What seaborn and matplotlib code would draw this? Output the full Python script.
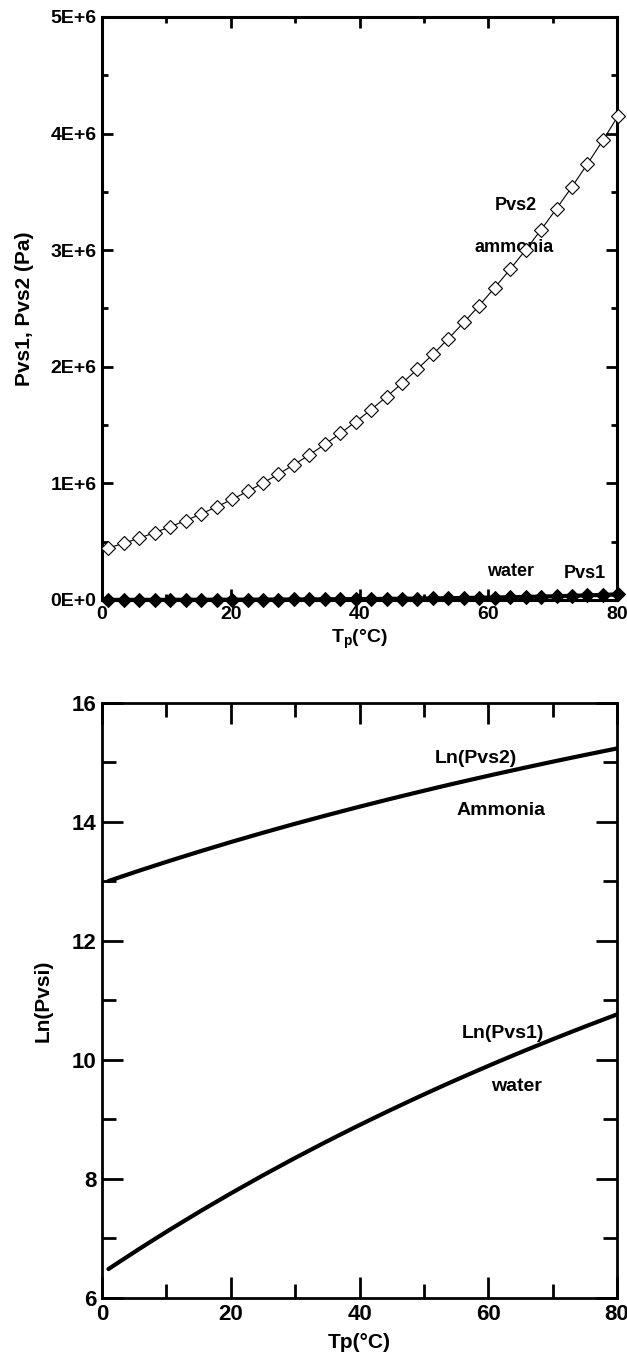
import numpy as np
import pandas as pd
import matplotlib
matplotlib.use("Agg")
import matplotlib.pyplot as plt
from matplotlib.ticker import MultipleLocator, FixedLocator, FixedFormatter
import seaborn as sns

# ---- data ----
temp_c = [1.0, 3.4, 5.8, 8.2, 10.6, 13.0, 15.4, 17.8, 20.2, 22.6, 25.0, 27.4,
          29.8, 32.2, 34.6, 37.0, 39.4, 41.8, 44.2, 46.6, 49.0, 51.4, 53.8,
          56.2, 58.6, 61.0, 63.4, 65.8, 68.2, 70.6, 73.0, 75.4, 77.8, 80.2]
pvs2_ammonia = [445400, 486500, 530700, 577400, 627600, 680700, 737900, 798000,
                862800, 930200, 1003000, 1079000, 1160000, 1244000, 1334000,
                1428000, 1528000, 1632000, 1743000, 1858000, 1980000, 2107000,
                2241000, 2380000, 2525000, 2678000, 2836000, 3002000, 3175000,
                3356000, 3543000, 3739000, 3941000, 4154000]
pvs1_water = [656, 778, 921, 1086, 1277, 1495, 1749, 2035, 2367, 2739, 3169,
              3647, 4197, 4806, 5503, 6274, 7148, 8114, 9199, 10400, 11743,
              13223, 14866, 16674, 18666, 20870, 23276, 25928, 28812, 31996,
              35438, 39219, 43288, 47770]

top_yticks = [0, 1e6, 2e6, 3e6, 4e6, 5e6]
top_ytick_labels = ["0E+0", "1E+6", "2E+6", "3E+6", "4E+6", "5E+6"]
xticks = [0, 20, 40, 60, 80]
bottom_yticks = [6, 8, 10, 12, 14, 16]

df = pd.DataFrame({"T": temp_c, "Pvs2": pvs2_ammonia, "Pvs1": pvs1_water})
df["LnPvs2"] = np.log(df["Pvs2"])
df["LnPvs1"] = np.log(df["Pvs1"])

# ---- style ----
sns.set_style("ticks")
FONT = ["Liberation Sans", "DejaVu Sans"]
plt.rcParams["font.family"] = FONT
plt.rcParams["font.weight"] = "bold"
for k in ["text.color", "axes.labelcolor", "xtick.color", "ytick.color", "axes.edgecolor"]:
    plt.rcParams[k] = "black"
plt.rcParams["mathtext.fontset"] = "custom"
plt.rcParams["mathtext.rm"] = "Liberation Sans:bold"
plt.rcParams["mathtext.it"] = "Liberation Sans:bold"
plt.rcParams["mathtext.bf"] = "Liberation Sans:bold"

fig = plt.figure(figsize=(6.27, 13.66), dpi=100)
ax1 = fig.add_axes([0.1627, 0.5608, 0.8214, 0.4268])
ax2 = fig.add_axes([0.1627, 0.0498, 0.8214, 0.4356])

# ---- top plot ----
sns.lineplot(data=df, x="T", y="Pvs2", ax=ax1, color="black", linewidth=0.8,
             marker="D", markersize=7, markerfacecolor="white",
             markeredgecolor="black", markeredgewidth=0.8, clip_on=False,
             zorder=5)
sns.lineplot(data=df, x="T", y="Pvs1", ax=ax1, color="black", linewidth=3,
             marker="D", markersize=7, markerfacecolor="black",
             markeredgecolor="black", clip_on=False, zorder=5)
ax1.set_xlim(0, 80)
ax1.set_ylim(0, 5e6)
ax1.xaxis.set_major_locator(FixedLocator(xticks))
ax1.xaxis.set_minor_locator(MultipleLocator(10))
ax1.yaxis.set_major_locator(FixedLocator(top_yticks))
ax1.yaxis.set_major_formatter(FixedFormatter(top_ytick_labels))
ax1.yaxis.set_minor_locator(MultipleLocator(5e5))
ax1.tick_params(which="both", direction="in", top=True, right=True,
                labelsize=14, width=2, color="black", pad=4)
ax1.tick_params(which="major", length=8)
ax1.tick_params(which="minor", length=4)
for lab in ax1.get_xticklabels() + ax1.get_yticklabels():
    lab.set_fontweight("bold")
for sp in ax1.spines.values():
    sp.set_linewidth(2.2)
    sp.set_color("black")
ax1.set_xlabel(r"$\mathrm{T_p(°C)}$", fontsize=14, labelpad=4)
ax1.set_ylabel("Pvs1, Pvs2 (Pa)", fontsize=15, fontweight="bold", labelpad=12)
ax1.text(64.3, 3.38e6, "Pvs2", fontsize=13, fontweight="bold", ha="center", va="center")
ax1.text(64.0, 3.02e6, "ammonia", fontsize=13, fontweight="bold", ha="center", va="center")
ax1.text(63.4, 2.4e5, "water", fontsize=13, fontweight="bold", ha="center", va="center")
ax1.text(75.0, 2.3e5, "Pvs1", fontsize=13, fontweight="bold", ha="center", va="center")

# ---- bottom plot ----
sns.lineplot(data=df, x="T", y="LnPvs2", ax=ax2, color="black", linewidth=3)
sns.lineplot(data=df, x="T", y="LnPvs1", ax=ax2, color="black", linewidth=3)
ax2.set_xlim(0, 80)
ax2.set_ylim(6, 16)
ax2.xaxis.set_major_locator(FixedLocator(xticks))
ax2.xaxis.set_minor_locator(MultipleLocator(10))
ax2.yaxis.set_major_locator(FixedLocator(bottom_yticks))
ax2.yaxis.set_minor_locator(MultipleLocator(1))
ax2.tick_params(which="both", direction="in", top=True, right=True,
                labelsize=16, width=2, color="black", pad=4)
ax2.tick_params(which="major", length=15)
ax2.tick_params(which="minor", length=10)
for lab in ax2.get_xticklabels() + ax2.get_yticklabels():
    lab.set_fontweight("bold")
for sp in ax2.spines.values():
    sp.set_linewidth(2)
    sp.set_color("black")
ax2.set_xlabel("Tp(°C)", fontsize=15, fontweight="bold", labelpad=6)
ax2.set_ylabel("Ln(Pvsi)", fontsize=15, fontweight="bold", labelpad=14)
ax2.text(58.1, 15.06, "Ln(Pvs2)", fontsize=14, fontweight="bold", ha="center", va="center")
ax2.text(62.0, 14.2, "Ammonia", fontsize=14, fontweight="bold", ha="center", va="center")
ax2.text(62.3, 10.45, "Ln(Pvs1)", fontsize=14, fontweight="bold", ha="center", va="center")
ax2.text(64.4, 9.55, "water", fontsize=14, fontweight="bold", ha="center", va="center")

fig.savefig("out.png", dpi=100)
